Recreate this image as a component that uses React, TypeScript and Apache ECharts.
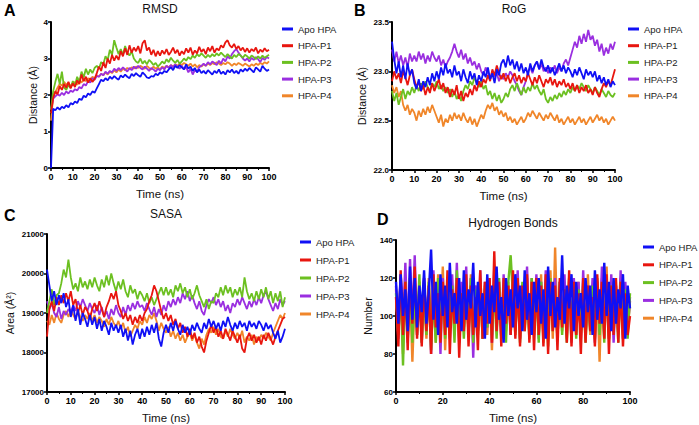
import React, { useEffect, useRef } from "react";
import * as echarts from "echarts";

const seriesNames = ["Apo HPA", "HPA-P1", "HPA-P2", "HPA-P3", "HPA-P4"];
const seriesColors = ["#1010f5", "#e8160f", "#6cc021", "#9a2fe0", "#f0862a"];
const timeNs = Array.from({ length: 101 }, (_, i) => i);

// Panel A: RMSD (Å)
const rmsdApo = [0, 1.62, 1.58, 1.66, 1.6, 1.68, 1.64, 1.72, 1.66, 1.78,
  1.74, 1.82, 1.78, 1.9, 1.86, 1.98, 1.94, 2.04, 2.0, 2.1,
  2.06, 2.18, 2.3, 2.42, 2.38, 2.46, 2.4, 2.5, 2.44, 2.52,
  2.46, 2.42, 2.54, 2.48, 2.56, 2.5, 2.46, 2.58, 2.52, 2.6,
  2.54, 2.5, 2.62, 2.56, 2.48, 2.46, 2.52, 2.5, 2.58, 2.54,
  2.62, 2.58, 2.66, 2.62, 2.7, 2.76, 2.68, 2.8, 2.74, 2.82,
  2.76, 2.7, 2.84, 2.72, 2.78, 2.66, 2.74, 2.62, 2.7, 2.6,
  2.66, 2.58, 2.68, 2.62, 2.56, 2.66, 2.6, 2.7, 2.58, 2.64,
  2.56, 2.68, 2.62, 2.7, 2.6, 2.66, 2.58, 2.7, 2.64, 2.72,
  2.66, 2.74, 2.68, 2.62, 2.76, 2.7, 2.64, 2.8, 2.72, 2.66, 2.7];
const rmsdP1 = [1.5, 1.92, 2.1, 2.02, 2.24, 2.14, 2.3, 2.2, 2.36, 2.18,
  2.32, 2.22, 2.4, 2.3, 2.56, 2.38, 2.5, 2.34, 2.46, 2.36,
  2.44, 2.6, 2.78, 2.66, 2.9, 2.74, 3.0, 2.86, 3.1, 2.94,
  3.08, 2.96, 3.2, 3.06, 3.28, 3.1, 3.36, 3.16, 3.3, 3.2,
  3.34, 3.14, 3.42, 3.5, 3.22, 3.3, 3.1, 3.24, 3.06, 3.2,
  3.08, 3.22, 3.12, 3.26, 3.1, 3.18, 3.3, 3.14, 3.24, 3.08,
  3.2, 3.12, 3.28, 3.16, 3.3, 3.1, 3.22, 3.14, 3.32, 3.18,
  3.26, 3.12, 3.3, 3.2, 3.34, 3.16, 3.28, 3.22, 3.36, 3.3,
  3.44, 3.5, 3.36, 3.3, 3.4, 3.26, 3.34, 3.22, 3.3, 3.18,
  3.28, 3.16, 3.26, 3.2, 3.3, 3.14, 3.24, 3.18, 3.28, 3.2, 3.24];
const rmsdP2 = [1.6, 2.1, 2.36, 2.58, 2.3, 2.64, 2.2, 2.14, 2.28, 2.2,
  2.38, 2.26, 2.5, 2.36, 2.64, 2.48, 2.72, 2.56, 2.7, 2.6,
  2.74, 2.8, 2.72, 2.9, 2.84, 3.06, 2.96, 3.24, 3.1, 3.5,
  3.3, 3.12, 3.26, 3.1, 3.34, 3.16, 3.08, 3.2, 3.0, 2.92,
  2.88, 3.0, 2.86, 2.94, 2.84, 2.96, 2.9, 2.82, 2.88, 2.78,
  2.84, 2.92, 2.86, 2.98, 2.9, 3.02, 2.94, 2.88, 2.96, 2.86,
  2.92, 3.0, 2.94, 3.04, 2.98, 3.08, 3.02, 3.12, 3.06, 3.14,
  3.08, 3.02, 3.1, 3.04, 3.12, 3.06, 3.14, 3.08, 3.16, 3.1,
  3.04, 3.12, 3.06, 3.0, 3.1, 3.04, 3.12, 3.08, 3.02, 3.1,
  3.06, 3.0, 3.08, 3.04, 2.98, 3.06, 3.0, 3.08, 3.02, 3.06, 3.1];
const rmsdP3 = [1.6, 1.9, 1.96, 2.02, 1.98, 2.06, 2.0, 2.1, 2.04, 2.12,
  2.08, 2.16, 2.12, 2.22, 2.18, 2.3, 2.26, 2.38, 2.34, 2.46,
  2.42, 2.52, 2.5, 2.58, 2.54, 2.64, 2.58, 2.66, 2.62, 2.72,
  2.66, 2.74, 2.68, 2.76, 2.7, 2.64, 2.74, 2.68, 2.78, 2.72,
  2.8, 2.74, 2.7, 2.78, 2.72, 2.66, 2.74, 2.7, 2.64, 2.72,
  2.68, 2.76, 2.7, 2.8, 2.74, 2.82, 2.76, 2.84, 2.78, 2.72,
  2.8, 2.7, 2.76, 2.62, 2.72, 2.56, 2.68, 2.64, 2.76, 2.8,
  2.86, 2.8, 2.9, 2.84, 2.92, 2.88, 2.82, 2.94, 2.86, 3.0,
  2.92, 3.06, 3.0, 3.12, 3.2, 3.26, 3.16, 3.08, 3.0, 2.94,
  3.0, 2.92, 3.02, 2.96, 3.04, 2.98, 2.9, 3.02, 2.96, 3.04, 3.0];
const rmsdP4 = [1.3, 1.96, 2.08, 2.2, 2.3, 2.26, 2.36, 2.28, 2.34, 2.24,
  2.3, 2.36, 2.28, 2.4, 2.34, 2.44, 2.38, 2.46, 2.42, 2.5,
  2.46, 2.54, 2.5, 2.58, 2.54, 2.62, 2.56, 2.64, 2.6, 2.68,
  2.62, 2.7, 2.64, 2.72, 2.68, 2.74, 2.7, 2.76, 2.72, 2.78,
  2.74, 2.8, 2.76, 2.72, 2.8, 2.74, 2.7, 2.78, 2.72, 2.76,
  2.7, 2.78, 2.74, 2.8, 2.76, 2.82, 2.78, 2.84, 2.8, 2.86,
  2.82, 2.88, 2.84, 2.8, 2.86, 2.78, 2.84, 2.76, 2.82, 2.78,
  2.84, 2.8, 2.86, 2.82, 2.88, 2.84, 2.9, 2.86, 2.82, 2.88,
  2.84, 2.9, 2.86, 2.8, 2.86, 2.82, 2.88, 2.84, 2.8, 2.86,
  2.82, 2.78, 2.84, 2.8, 2.86, 2.82, 2.88, 2.84, 2.9, 2.86, 2.92];

// Panel B: RoG (Å)
const rogApo = [23.3, 23.12, 22.98, 23.1, 22.94, 23.06, 22.92, 23.08, 22.96, 23.02,
  22.88, 22.82, 22.92, 22.8, 22.9, 22.84, 22.94, 22.86, 22.98, 22.9,
  23.0, 22.92, 23.04, 22.96, 23.08, 22.98, 23.02, 22.94, 23.06, 22.96,
  23.0, 22.9, 23.02, 22.94, 22.88, 23.0, 22.92, 22.98, 22.86, 22.96,
  22.9, 23.0, 22.94, 23.04, 22.92, 22.98, 22.88, 23.02, 22.96, 23.08,
  23.12, 23.04, 23.16, 23.06, 23.12, 23.02, 23.1, 23.0, 23.08, 22.98,
  23.04, 22.96, 23.08, 23.0, 23.06, 23.1, 23.02, 23.12, 23.04, 23.0,
  23.06, 22.98, 23.04, 22.96, 23.02, 23.08, 23.0, 23.06, 22.98, 23.04,
  23.0, 22.94, 23.02, 22.96, 23.04, 22.98, 22.92, 23.02, 22.96, 23.0,
  22.94, 23.0, 22.9, 22.96, 22.88, 22.94, 22.86, 22.92, 22.84, 22.9, 22.86];
const rogP1 = [22.9, 23.0, 22.92, 22.98, 22.88, 23.0, 22.94, 22.86, 22.96, 23.02,
  22.92, 22.84, 22.9, 22.8, 22.86, 22.76, 22.84, 22.78, 22.88, 22.8,
  22.86, 22.92, 22.82, 22.88, 22.78, 22.84, 22.74, 22.82, 22.76, 22.86,
  22.72, 22.8, 22.7, 22.78, 22.74, 22.82, 22.76, 22.86, 22.8, 22.9,
  22.84, 22.92, 22.88, 22.96, 22.9, 23.02, 22.96, 23.06, 22.98, 22.92,
  22.98, 22.9, 22.96, 22.88, 22.94, 22.98, 22.9, 22.96, 22.88, 22.94,
  22.9, 22.98, 22.92, 22.86, 22.94, 22.88, 22.96, 22.9, 22.84, 22.92,
  22.88, 22.94, 22.86, 22.92, 22.84, 22.9, 22.86, 22.92, 22.84, 22.88,
  22.82, 22.88, 22.8, 22.86, 22.78, 22.84, 22.8, 22.86, 22.78, 22.82,
  22.76, 22.84, 22.78, 22.74, 22.82, 22.88, 22.84, 22.9, 22.86, 22.94, 23.02];
const rogP2 = [22.8, 22.7, 22.78, 22.66, 22.74, 22.82, 22.72, 22.8, 22.76, 22.84,
  22.78, 22.86, 22.8, 22.88, 22.82, 22.9, 22.84, 22.8, 22.88, 22.84,
  22.9, 22.82, 22.86, 22.8, 22.84, 22.78, 22.82, 22.74, 22.8, 22.72,
  22.76, 22.7, 22.8, 22.86, 22.82, 22.9, 22.86, 22.94, 22.88, 22.84,
  22.9, 22.82, 22.86, 22.76, 22.8, 22.72, 22.78, 22.7, 22.76, 22.68,
  22.72, 22.78, 22.74, 22.82, 22.86, 22.8, 22.88, 22.82, 22.76, 22.84,
  22.78, 22.84, 22.8, 22.88, 22.82, 22.86, 22.8, 22.76, 22.82, 22.72,
  22.68, 22.74, 22.7, 22.76, 22.72, 22.78, 22.74, 22.8, 22.76, 22.82,
  22.78, 22.84, 22.8, 22.86, 22.82, 22.88, 22.84, 22.8, 22.86, 22.82,
  22.78, 22.84, 22.8, 22.76, 22.82, 22.78, 22.74, 22.8, 22.76, 22.74, 22.78];
const rogP3 = [23.22, 23.1, 23.2, 23.08, 23.16, 23.06, 23.14, 23.04, 23.18, 23.1,
  23.16, 23.1, 23.2, 23.12, 23.18, 23.08, 23.16, 23.1, 23.2, 23.14,
  23.1, 23.16, 23.06, 23.12, 23.04, 23.1, 23.14, 23.2, 23.28, 23.2,
  23.14, 23.22, 23.12, 23.18, 23.08, 23.14, 23.06, 23.1, 23.02, 23.08,
  23.0, 22.96, 23.04, 22.98, 22.92, 23.0, 22.94, 22.98, 22.9, 22.96,
  22.92, 22.98, 22.94, 23.0, 22.96, 22.9, 22.86, 22.8, 22.76, 22.84,
  22.9, 23.0, 23.04, 22.98, 23.06, 23.1, 23.02, 23.08, 23.0, 23.04,
  22.98, 23.04, 23.0, 23.06, 22.98, 23.04, 23.0, 23.08, 23.12, 23.06,
  23.14, 23.22, 23.3, 23.24, 23.36, 23.28, 23.38, 23.3, 23.42, 23.32,
  23.36, 23.26, 23.32, 23.2, 23.28, 23.16, 23.24, 23.18, 23.28, 23.22, 23.3];
const rogP4 = [22.86, 22.78, 22.84, 22.74, 22.8, 22.66, 22.6, 22.66, 22.56, 22.62,
  22.58, 22.5, 22.6, 22.54, 22.62, 22.56, 22.64, 22.58, 22.66, 22.6,
  22.54, 22.48, 22.56, 22.44, 22.52, 22.48, 22.56, 22.5, 22.58, 22.52,
  22.56, 22.5, 22.58, 22.52, 22.48, 22.54, 22.46, 22.52, 22.44, 22.5,
  22.56, 22.52, 22.6, 22.66, 22.62, 22.68, 22.6, 22.64, 22.56, 22.6,
  22.54, 22.58, 22.5, 22.54, 22.48, 22.52, 22.46, 22.5, 22.54, 22.48,
  22.52, 22.58, 22.54, 22.6, 22.56, 22.52, 22.58, 22.54, 22.5, 22.56,
  22.52, 22.58, 22.54, 22.5, 22.56, 22.48, 22.52, 22.46, 22.5, 22.54,
  22.48, 22.52, 22.46, 22.5, 22.54, 22.48, 22.52, 22.46, 22.5, 22.54,
  22.48, 22.52, 22.56, 22.5, 22.54, 22.48, 22.52, 22.46, 22.5, 22.54, 22.5];

// Panel C: SASA (Å²)
const sasaApo = [20100, 19700, 19300, 19550, 19200, 19450, 19250, 19500, 19150, 19350,
  18900, 19200, 18800, 19100, 18700, 19000, 18850, 18650, 18950, 18700,
  18900, 18600, 18850, 18550, 18800, 18650, 18450, 18750, 18550, 18700,
  18500, 18700, 18400, 18600, 18300, 18550, 18200, 18450, 18600, 18350,
  18600, 18400, 18650, 18450, 18700, 18500, 18750, 18350, 18150, 18500,
  18700, 18500, 18750, 18550, 18800, 18600, 18450, 18700, 18500, 18650,
  18450, 18700, 18550, 18750, 18600, 18500, 18750, 18600, 18850, 18650,
  18800, 18600, 18750, 18550, 18800, 18650, 18900, 18700, 18550, 18750,
  18600, 18800, 18650, 18750, 18550, 18800, 18650, 18750, 18600, 18800,
  18700, 18550, 18750, 18600, 18700, 18500, 18350, 18550, 18250, 18400, 18600];
const sasaP1 = [18400, 19100, 19300, 19050, 19400, 19200, 19450, 19250, 19500, 19300,
  19550, 19200, 19350, 19000, 19200, 18950, 19150, 19050, 18850, 19100,
  19250, 19050, 19300, 19100, 18900, 19150, 19300, 19500, 19350, 19550,
  19200, 19050, 18850, 19000, 18800, 18950, 18700, 18900, 18750, 18950,
  18800, 19000, 19100, 19300, 19450, 19700, 19550, 19300, 19050, 18850,
  19000, 18800, 18950, 18700, 18850, 18600, 18750, 18500, 18650, 18400,
  18600, 18350, 18500, 18250, 18400, 18150, 18000, 18300, 18500, 18700,
  18500, 18650, 18400, 18550, 18350, 18600, 18450, 18300, 18550, 18400,
  18250, 18450, 18100, 18000, 18350, 18500, 18300, 18450, 18250, 18400,
  18200, 18450, 18300, 18500, 18350, 18200, 18400, 18550, 18700, 18850, 18900];
const sasaP2 = [19000, 19300, 19600, 19200, 19450, 19500, 19750, 20100, 19900, 20350,
  19900, 19600, 19750, 19550, 19900, 19650, 19800, 19600, 19850, 19650,
  19900, 19700, 19550, 19850, 19650, 19950, 19700, 20000, 19750, 19550,
  19800, 19600, 19850, 19550, 19400, 19700, 19500, 19600, 19350, 19550,
  19450, 19300, 19500, 19250, 19400, 19200, 19350, 19500, 19650, 19450,
  19650, 19450, 19600, 19400, 19700, 19550, 19750, 19500, 19650, 19400,
  19600, 19350, 19500, 19700, 19450, 19300, 19150, 19350, 19100, 19300,
  19250, 19500, 19400, 19650, 19450, 19700, 19500, 19650, 19400, 19600,
  19450, 19650, 19400, 19900, 19550, 19350, 19500, 19300, 19550, 19350,
  19600, 19400, 19650, 19350, 19550, 19250, 19500, 19300, 19550, 19150, 19400];
const sasaP3 = [19300, 19100, 19250, 19000, 18900, 19150, 18850, 19050, 18950, 19100,
  19000, 19200, 19050, 19300, 19150, 19350, 19200, 19050, 19250, 19100,
  19000, 19200, 18950, 19150, 18900, 19050, 18850, 19100, 18950, 19200,
  19000, 18900, 19150, 18950, 19200, 19050, 19250, 19100, 19300, 19150,
  19200, 19050, 19250, 19100, 18950, 19150, 18900, 19100, 18950, 19200,
  19050, 19300, 19150, 19350, 19200, 19400, 19250, 19500, 19350, 19550,
  19300, 19450, 19250, 19100, 19300, 19050, 18950, 19200, 19350, 19250,
  19400, 19200, 19350, 19150, 19300, 19050, 19200, 19000, 19250, 19150,
  19350, 19200, 19400, 19250, 19100, 19300, 19150, 19350, 19200, 19400,
  19250, 19450, 19550, 19350, 19200, 19050, 19250, 19100, 19350, 19200, 19300];
const sasaP4 = [18800, 18700, 18950, 18750, 19000, 18850, 18750, 18950, 19050, 18900,
  19100, 18950, 18850, 19050, 18900, 18800, 18950, 18850, 19000, 18800,
  18950, 18750, 18900, 18800, 18650, 18850, 18700, 18900, 18750, 18650,
  18800, 18600, 18750, 18500, 18650, 18400, 18550, 18700, 18600, 18800,
  18700, 18900, 18750, 18950, 18850, 19000, 18800, 18550, 18750, 18600,
  18500, 18650, 18400, 18550, 18350, 18500, 18300, 18450, 18250, 18400,
  18500, 18300, 18450, 18250, 18100, 18350, 18200, 18450, 18600, 18500,
  18650, 18450, 18600, 18400, 18350, 18550, 18400, 18600, 18450, 18350,
  18500, 18350, 18550, 18250, 18400, 18300, 18450, 18200, 18400, 18300,
  18450, 18350, 18500, 18400, 18300, 18500, 18650, 18800, 18950, 18850, 19000];

// Panel D: Hydrogen bonds (count)
const hbApo = [118, 96, 122, 100, 114, 92, 126, 98, 120, 94,
  116, 102, 124, 96, 112, 135, 98, 118, 90, 122,
  100, 116, 94, 128, 102, 112, 96, 120, 92, 124,
  98, 114, 104, 128, 94, 118, 100, 112, 88, 122,
  96, 116, 102, 126, 98, 110, 86, 120, 100, 114,
  94, 122, 104, 116, 92, 124, 98, 112, 90, 118,
  102, 120, 96, 114, 88, 126, 100, 118, 94, 110,
  98, 132, 96, 116, 104, 122, 92, 118, 100, 112,
  94, 120, 102, 116, 90, 124, 98, 114, 96, 128,
  100, 118, 92, 120, 96, 114, 104, 122, 88, 116, 104];
const hbP1 = [110, 84, 124, 90, 118, 82, 120, 96, 126, 88,
  114, 84, 120, 92, 116, 80, 122, 94, 112, 86,
  118, 90, 124, 80, 114, 96, 120, 78, 112, 92,
  122, 84, 116, 90, 110, 82, 124, 88, 118, 96,
  120, 86, 134, 92, 118, 84, 120, 96, 116, 90,
  124, 88, 120, 84, 116, 92, 122, 86, 118, 82,
  120, 90, 116, 84, 122, 80, 118, 92, 116, 82,
  120, 94, 114, 86, 124, 84, 118, 90, 112, 80,
  120, 86, 116, 92, 110, 84, 122, 96, 118, 88,
  122, 80, 116, 90, 120, 86, 118, 84, 112, 90, 100];
const hbP2 = [112, 90, 116, 74, 118, 88, 120, 86, 114, 90,
  122, 86, 114, 90, 118, 82, 112, 86, 120, 92,
  114, 88, 118, 92, 116, 86, 124, 94, 112, 88,
  116, 92, 120, 86, 114, 90, 118, 88, 116, 94,
  112, 90, 116, 88, 120, 92, 114, 86, 118, 132,
  110, 90, 116, 86, 118, 92, 112, 88, 120, 90,
  114, 86, 118, 90, 116, 84, 120, 92, 112, 88,
  118, 90, 114, 86, 120, 92, 116, 88, 114, 90,
  118, 86, 112, 92, 116, 88, 120, 90, 114, 86,
  120, 88, 116, 92, 112, 86, 118, 90, 114, 88, 112];
const hbP3 = [116, 88, 122, 94, 128, 86, 130, 96, 132, 90,
  118, 86, 120, 92, 116, 80, 124, 96, 118, 80,
  120, 94, 116, 88, 122, 92, 128, 86, 118, 94,
  126, 90, 120, 78, 116, 92, 124, 88, 118, 94,
  120, 86, 126, 92, 118, 88, 122, 96, 114, 90,
  118, 92, 124, 88, 116, 94, 126, 90, 120, 96,
  122, 88, 118, 92, 124, 90, 116, 94, 120, 88,
  118, 96, 122, 90, 116, 86, 120, 92, 118, 88,
  124, 90, 116, 94, 120, 86, 118, 92, 126, 88,
  118, 92, 122, 86, 116, 90, 124, 88, 118, 92, 110];
const hbP4 = [114, 90, 120, 80, 118, 92, 116, 76, 112, 94,
  118, 90, 114, 88, 120, 92, 116, 86, 122, 90,
  126, 82, 118, 94, 116, 90, 120, 88, 114, 94,
  118, 90, 122, 86, 116, 92, 120, 88, 114, 90,
  116, 82, 118, 94, 120, 88, 116, 92, 118, 90,
  116, 92, 120, 88, 114, 94, 120, 90, 116, 92,
  118, 90, 122, 86, 116, 92, 124, 88, 136, 90,
  118, 92, 114, 88, 120, 94, 116, 90, 118, 92,
  116, 88, 122, 90, 114, 92, 118, 76, 120, 90,
  126, 88, 118, 92, 116, 90, 120, 88, 114, 92, 108];

const panels = [
  { title: "RMSD", letter: "A", yName: "Distance (Å)", data: [rmsdApo, rmsdP1, rmsdP2, rmsdP3, rmsdP4], yMin: 0, yMax: 4, yInt: 1, xInt: 10 },
  { title: "RoG", letter: "B", yName: "Distance (Å)", data: [rogApo, rogP1, rogP2, rogP3, rogP4], yMin: 22, yMax: 23.5, yInt: 0.5, xInt: 10 },
  { title: "SASA", letter: "C", yName: "Area (Å²)", data: [sasaApo, sasaP1, sasaP2, sasaP3, sasaP4], yMin: 17000, yMax: 21000, yInt: 1000, xInt: 10 },
  { title: "Hydrogen Bonds", letter: "D", yName: "Number", data: [hbApo, hbP1, hbP2, hbP3, hbP4], yMin: 60, yMax: 140, yInt: 20, xInt: 20 },
];

const grids = [
  { left: 51, top: 22, width: 218, height: 146 },
  { left: 392, top: 22, width: 223, height: 148 },
  { left: 47, top: 234, width: 238, height: 158 },
  { left: 396, top: 240, width: 234, height: 155 },
];
const legendPos = [
  { left: 282, top: 23, gap: 4.7 },
  { left: 628, top: 23, gap: 4.7 },
  { left: 300, top: 236, gap: 6 },
  { left: 643, top: 241, gap: 5.8 },
];
const titlePos = [
  { x: 160, y: 9 }, { x: 514, y: 9 }, { x: 166, y: 214 }, { x: 513, y: 223 },
];
const letterPos = [
  { x: 4, y: 2 }, { x: 354, y: 2 }, { x: 4, y: 207 }, { x: 377, y: 211 },
];
const yNameGap = [13, 25, 32, 23];
const lineWidths = [1.8, 1.8, 1.8, 2.4];

const FONT = "Liberation Sans, Arial, sans-serif";

export default function App() {
  const ref = useRef<HTMLDivElement>(null);
  useEffect(() => {
    if (!ref.current) return;
    const chart = echarts.init(ref.current, null, { renderer: "svg" });
    const axisLine = { lineStyle: { color: "#000", width: 2 } };
    const xAxis = panels.map((p, i) => ({
      type: "value", gridIndex: i, min: 0, max: 100, interval: p.xInt,
      name: "Time (ns)", nameLocation: "middle", nameGap: 20,
      nameTextStyle: { fontFamily: FONT, fontSize: 11.5, color: "#111" },
      axisLine: { ...axisLine, onZero: false },
      axisTick: { show: true, length: 3, lineStyle: { color: "#000", width: 1.5 } },
      minorTick: { show: true, splitNumber: 2, length: 2, lineStyle: { color: "#000", width: 1 } },
      axisLabel: { fontFamily: FONT, fontSize: 9, fontWeight: "bold", color: "#000", margin: 4 },
      splitLine: { show: false },
    }));
    const yAxis = panels.map((p, i) => ({
      type: "value", gridIndex: i, min: p.yMin, max: p.yMax, interval: p.yInt,
      name: p.yName, nameLocation: "middle", nameGap: yNameGap[i],
      nameTextStyle: { fontFamily: FONT, fontSize: 10.5, color: "#111" },
      axisLine: { ...axisLine, onZero: false },
      axisTick: { show: true, length: 3, lineStyle: { color: "#000", width: 1.5 } },
      axisLabel: {
        fontFamily: FONT, fontSize: 8, fontWeight: "bold", color: "#000", margin: 3,
        formatter: (v: number) => (i === 1 ? v.toFixed(1) : String(v)),
      },
      splitLine: { show: false },
    }));
    const series: any[] = [];
    panels.forEach((p, i) => {
      for (let k = 4; k >= 0; k--) {
        series.push({
          type: "line", name: seriesNames[k], xAxisIndex: i, yAxisIndex: i,
          data: timeNs.map((t, j) => [t, p.data[k][j]]),
          showSymbol: false, symbol: "none", clip: true,
          lineStyle: { color: seriesColors[k], width: lineWidths[i] },
          itemStyle: { color: seriesColors[k] },
          z: 2 + (4 - k),
        });
      }
    });
    const legend = panels.map((_, i) => ({
      orient: "vertical", left: legendPos[i].left, top: legendPos[i].top, padding: 0,
      data: seriesNames, icon: "rect", itemWidth: 11, itemHeight: 3, itemGap: legendPos[i].gap,
      textStyle: { fontFamily: FONT, fontSize: 9.5, lineHeight: 12, color: "#222" },
      selectedMode: false,
    }));
    const graphic: any[] = [];
    panels.forEach((p, i) => {
      graphic.push({
        type: "text", x: titlePos[i].x, y: titlePos[i].y,
        style: { text: p.title, fontFamily: FONT, fontSize: 12, fill: "#111", textAlign: "center", textVerticalAlign: "middle" },
      });
      graphic.push({
        type: "text", x: letterPos[i].x, y: letterPos[i].y,
        style: { text: p.letter, fontFamily: FONT, fontSize: 16, fontWeight: "bold", fill: "#000" },
      });
    });
    chart.setOption({
      animation: false,
      backgroundColor: "#fff",
      grid: grids.map((g) => ({ ...g, containLabel: false })),
      xAxis, yAxis, series, legend, graphic,
    });
    return () => chart.dispose();
  }, []);
  return <div ref={ref} style={{ width: 699, height: 425, position: "absolute", left: 0, top: 0 }} />;
}
